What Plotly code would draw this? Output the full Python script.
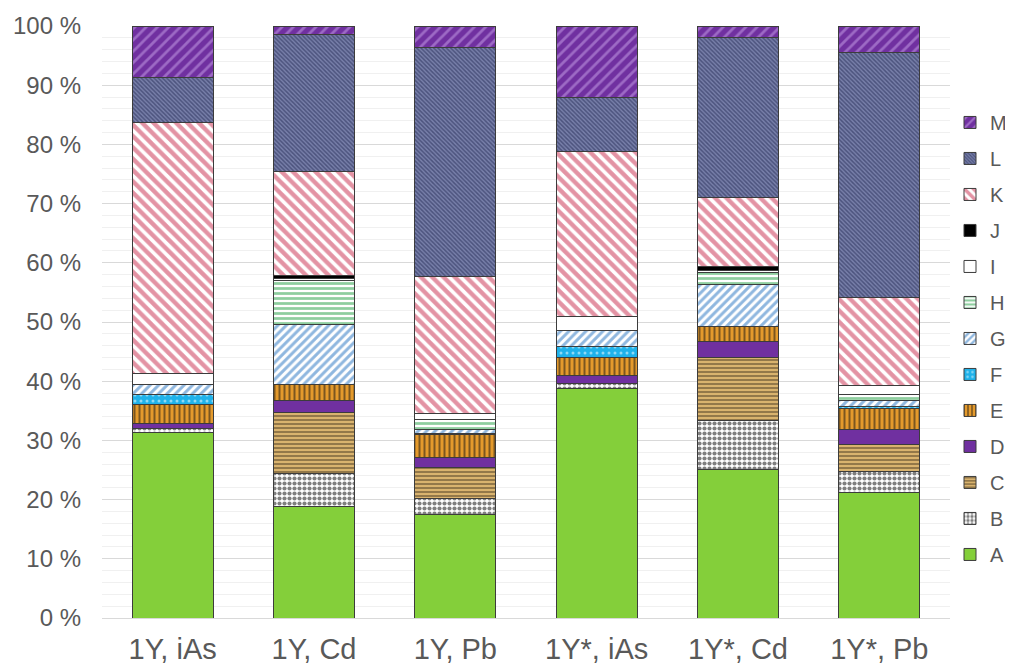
import plotly.graph_objects as go

categories = ["1Y, iAs", "1Y, Cd", "1Y, Pb", "1Y*, iAs", "1Y*, Cd", "1Y*, Pb"]
series_names = ["A", "B", "C", "D", "E", "F", "G", "H", "I", "J", "K", "L", "M"]

A = [31.3, 18.9, 17.4, 38.7, 25.1, 21.2]
B = [0.7, 5.5, 2.8, 0.9, 8.2, 3.5]
C = [0.0, 10.3, 5.2, 0.0, 10.7, 4.6]
D = [0.9, 2.1, 1.7, 1.3, 2.7, 2.5]
E = [3.1, 2.6, 3.9, 3.1, 2.5, 3.6]
F = [1.7, 0.0, 0.2, 1.9, 0.0, 0.3]
G = [1.7, 10.2, 0.7, 2.6, 7.2, 1.1]
H = [0.0, 7.4, 1.6, 0.0, 2.0, 0.9]
I = [1.9, 0.3, 1.1, 2.5, 0.3, 1.5]
J = [0.0, 0.6, 0.0, 0.0, 0.6, 0.0]
K = [42.4, 17.5, 23.1, 27.8, 11.8, 15.0]
L = [7.6, 23.2, 38.7, 9.1, 26.9, 41.3]
M = [8.7, 1.4, 3.6, 12.1, 2.0, 4.5]

values = [A, B, C, D, E, F, G, H, I, J, K, L, M]

styles = {
    "A": dict(color="#84CF3A", shape=""),
    "B": dict(color="#FFFFFF", shape=".", fg="#000000", size=5, solidity=0.55),
    "C": dict(color="#D9B36E", shape="-", fg="#2A2010", size=4, solidity=0.4),
    "D": dict(color="#7030A0", shape=""),
    "E": dict(color="#E49A2C", shape="|", fg="#111111", size=5, solidity=0.4),
    "F": dict(color="#1FB2EA", shape=".", fg="#FFFFFF", size=6, solidity=0.2),
    "G": dict(color="#FFFFFF", shape="/", fg="#1F6FC0", size=6, solidity=0.5),
    "H": dict(color="#FFFFFF", shape="-", fg="#1E9E40", size=5, solidity=0.55),
    "I": dict(color="#FFFFFF", shape=""),
    "J": dict(color="#000000", shape=""),
    "K": dict(color="#FFFFFF", shape="\\", fg="#C8284A", size=8, solidity=0.55),
    "L": dict(color="#7880AA", shape="\\", fg="#1F2550", size=3, solidity=0.5),
    "M": dict(color="#7030A0", shape="/", fg="#C9A3EA", size=8, solidity=0.35),
}

fig = go.Figure()
for i, (name, vals) in enumerate(zip(series_names, values)):
    s = styles[name]
    pattern = dict(shape=s["shape"])
    if s["shape"]:
        pattern.update(fgcolor=s["fg"], bgcolor=s["color"], size=s["size"],
                       solidity=s["solidity"], fillmode="overlay")
    fig.add_trace(go.Bar(
        name=name, x=categories, y=vals, legendgroup=name,
        legendrank=1000 - i,
        marker=dict(color=s["color"], pattern=pattern,
                    line=dict(color="#3C3C3C", width=1)),
    ))

fig.update_layout(
    barmode="stack",
    bargap=0.425,
    width=1013, height=663,
    margin=dict(l=94, r=71, t=18, b=53, autoexpand=False),
    plot_bgcolor="white", paper_bgcolor="white",
    font=dict(family="Liberation Sans, Arial, sans-serif", color="#595959"),
    legend=dict(x=1.0, xanchor="left", y=0.870, yanchor="top",
                traceorder="grouped", tracegroupgap=7,
                itemwidth=30,
                font=dict(size=20, color="#595959"), bgcolor="rgba(0,0,0,0)"),
    showlegend=True,
)
fig.update_yaxes(range=[0, 100], dtick=10, ticksuffix=" %", automargin=False,
                 tickfont=dict(size=24, color="#595959"),
                 showgrid=True, gridcolor="#D9D9D9", gridwidth=1,
                 minor=dict(dtick=2, showgrid=True, gridcolor="#F0F0F0"),
                 zeroline=False, ticks="", ticklabelstandoff=20)
fig.update_xaxes(tickfont=dict(size=29, color="#595959"), automargin=False,
                 showline=True, linecolor="#D9D9D9", linewidth=1,
                 ticklabelstandoff=5)

fig.write_html("out.html")
